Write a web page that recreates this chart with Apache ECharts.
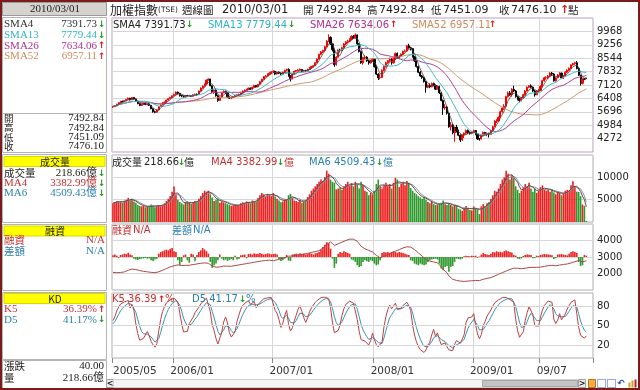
<!DOCTYPE html>
<html><head><meta charset="utf-8">
<script src="https://cdn.jsdelivr.net/npm/echarts/dist/echarts.min.js"></script>
<style>html,body{margin:0;padding:0;background:#fff}#c{width:640px;height:390px}</style>
</head><body><div id="c"></div>
<script>
// ---- weekly TAIEX candles [open, close, low, high], 2005/05 .. 2010/03/01 ----
const candles = [
[5950,5980,5900,6010],[5980,6012,5940,6050],[6012,6100,5990,6120],[6100,6180,6080,6210],[6180,6250,6150,6280],[6250,6241,6190,6290],[6241,6290,6220,6320],[6290,6350,6260,6380],[6350,6420,6330,6450],[6420,6330,6300,6440],
[6330,6460,6320,6480],[6460,6380,6350,6470],[6380,6250,6220,6400],[6250,6130,6100,6270],[6130,6033,6000,6150],[6033,6100,6010,6130],[6100,6160,6070,6190],[6160,6080,6050,6180],[6080,6118,6040,6140],[6118,6040,6000,6150],
[6040,5860,5830,6060],[5860,5700,5650,5880],[5700,5670,5618,5760],[5670,5790,5650,5820],[5790,5980,5780,6000],[5980,6060,5950,6090],[6060,6190,6040,6210],[6190,6203,6150,6240],[6203,6320,6190,6340],[6320,6390,6290,6420],
[6390,6460,6370,6490],[6460,6548,6440,6560],[6548,6620,6520,6660],[6620,6740,6600,6780],[6740,6680,6620,6770],[6680,6560,6500,6700],[6560,6532,6470,6600],[6532,6480,6430,6560],[6480,6560,6460,6590],[6560,6550,6500,6600],
[6550,6561,6510,6600],[6561,6520,6480,6590],[6520,6600,6500,6630],[6600,6630,6570,6660],[6630,6613,6560,6670],[6613,6800,6600,6820],[6800,6960,6780,6990],[6960,7060,6930,7100],[7060,7171,7030,7200],[7171,7380,7150,7400],
[7380,7440,7350,7474],[7440,7080,7050,7450],[7080,6780,6700,7100],[6780,6846,6650,6900],[6846,6550,6500,6870],[6550,6300,6232,6600],[6300,6480,6280,6510],[6480,6704,6460,6720],[6704,6790,6680,6830],[6790,6700,6650,6820],
[6700,6480,6430,6720],[6480,6420,6380,6520],[6420,6455,6370,6490],[6455,6510,6420,6540],[6510,6570,6480,6600],[6570,6600,6540,6630],[6600,6611,6560,6650],[6611,6700,6590,6720],[6700,6800,6680,6830],[6800,6850,6770,6880],
[6850,6884,6820,6920],[6884,6950,6860,6980],[6950,6900,6860,6990],[6900,7000,6880,7030],[7000,7100,6980,7130],[7100,7021,6990,7120],[7021,7150,7000,7180],[7150,7300,7130,7330],[7300,7420,7280,7450],[7420,7567,7400,7590],
[7567,7600,7520,7650],[7600,7700,7580,7730],[7700,7750,7660,7790],[7750,7823,7720,7850],[7823,7850,7760,7900],[7850,7700,7650,7880],[7700,7800,7680,7830],[7800,7750,7700,7840],[7750,7699,7640,7790],[7699,7800,7680,7830],
[7800,7900,7780,7930],[7900,7950,7860,7990],[7950,7600,7560,8000],[7600,7450,7306,7640],[7450,7700,7420,7730],[7700,7850,7680,7880],[7850,7884,7810,7920],[7884,7920,7850,7960],[7920,7950,7880,8000],[7950,7850,7800,7970],
[7850,7880,7790,7920],[7880,7875,7820,7930],[7875,7950,7850,7990],[7950,8050,7930,8080],[8050,8100,8010,8140],[8100,8145,8060,8180],[8145,8300,8120,8330],[8300,8500,8280,8530],[8500,8750,8480,8780],[8750,8883,8700,8920],
[8883,8950,8820,9000],[8950,9150,8920,9200],[9150,9450,9120,9500],[9450,9650,9400,9807],[9650,9300,9250,9700],[9300,9000,8900,9350],[9000,8200,8090,9050],[8200,8600,8150,8650],[8600,8982,8580,9010],[8982,8950,8850,9050],
[8950,9100,8900,9150],[9100,9300,9080,9350],[9300,9411,9250,9450],[9411,9450,9350,9520],[9450,9550,9400,9600],[9550,9700,9500,9760],[9700,9650,9580,9780],[9650,9780,9600,9859],[9780,9300,9250,9800],[9300,8900,8850,9350],
[8900,8300,8250,8950],[8300,8586,8200,8620],[8586,8600,8450,8700],[8600,8400,8350,8650],[8400,8300,8200,8450],[8300,8400,8250,8450],[8400,8506,8350,8550],[8506,8100,8050,8530],[8100,7700,7650,8150],[7700,7500,7384,7750],
[7500,7521,7420,7700],[7521,7900,7500,7950],[7900,8100,7850,8150],[8100,8300,8050,8350],[8300,8412,8250,8450],[8412,8500,8350,8550],[8500,8300,8200,8550],[8300,8500,8250,8550],[8500,8800,8480,8850],[8800,8572,8520,8850],
[8572,8650,8500,8700],[8650,8750,8600,8800],[8750,8900,8700,8950],[8900,8920,8850,9000],[8920,9200,8900,9250],[9200,9100,9050,9309],[9100,9050,8950,9150],[9050,8619,8580,9080],[8619,8400,8350,8650],[8400,8100,8050,8450],
[8100,7800,7750,8150],[7800,7600,7550,7850],[7600,7523,7450,7650],[7523,7300,7250,7560],[7300,7000,6708,7350],[7000,7100,6950,7150],[7100,7024,6950,7200],[7024,7200,7000,7250],[7200,7100,7050,7250],[7100,6900,6850,7150],
[6900,7046,6880,7100],[7046,6700,6650,7080],[6700,6300,6250,6750],[6300,5900,5530,6350],[5900,5950,5800,6100],[5950,5620,5550,6000],[5620,4900,4850,5650],[4900,5000,4700,5150],[5000,4580,4500,5050],[4580,4870,4110,4900],
[4870,4700,4600,5000],[4700,4450,4400,4750],[4450,4200,4089,4500],[4200,4460,4150,4500],[4460,4550,4300,4600],[4550,4700,4500,4760],[4700,4600,4520,4750],[4600,4550,4480,4650],[4550,4591,4500,4640],[4591,4700,4560,4750],
[4700,4500,4450,4720],[4500,4250,4200,4520],[4250,4248,4164,4300],[4248,4450,4230,4480],[4450,4600,4420,4650],[4600,4500,4450,4630],[4500,4557,4400,4600],[4557,4500,4328,4580],[4500,4700,4480,4730],[4700,4900,4680,4950],
[4900,5200,4880,5250],[5200,5210,5100,5300],[5210,5400,5180,5450],[5400,5700,5380,5750],[5700,5900,5650,5950],[5900,5993,5800,6100],[5993,6500,5980,6550],[6500,6700,6450,6780],[6700,6600,6550,6800],[6600,6890,6500,6950],
[6890,6800,6750,7084],[6800,6500,6450,6850],[6500,6350,6300,6550],[6350,6300,6200,6450],[6300,6432,6250,6480],[6432,6600,6400,6650],[6600,6800,6550,6850],[6800,7000,6780,7050],[7000,7078,6950,7110],[7078,7000,6950,7150],
[7000,6800,6750,7050],[6800,6600,6500,6850],[6600,6800,6580,6850],[6800,6826,6750,6900],[6826,7050,6800,7100],[7050,7350,7020,7400],[7350,7500,7300,7550],[7500,7509,7400,7580],[7509,7600,7450,7650],[7600,7750,7560,7800],
[7750,7700,7620,7810],[7700,7340,7300,7750],[7340,7500,7300,7550],[7500,7650,7480,7700],[7650,7750,7600,7800],[7750,7500,7450,7780],[7500,7582,7450,7620],[7582,7800,7560,7850],[7800,7900,7750,7950],[7900,8000,7860,8050],
[8000,8188,7980,8220],[8188,8250,8150,8300],[8250,8300,8200,8350],[8300,8000,7950,8395],[8000,7640,7600,8050],[7640,7212,7080,7660],[7212,7440,7150,7460],[7440,7436,7380,7500],[7492.84,7476.10,7451.09,7492.84]
];

// ---- weekly turnover (億) ----
const volume = [
4200,4500,4700,4400,4600,4300,
4800,5000,5400,4700,5200,4600,4300,
3800,3600,3500,3700,3300,3400,3500,3900,3700,3300,3600,3800,3500,3900,4200,
4700,5200,5800,6800,7950,6200,
5000,4500,4200,3900,4400,4600,4300,4100,4500,4700,4400,5200,5800,
6500,7000,6800,7000,6200,
5500,4700,5000,5200,4300,4600,4400,4200,4000,3800,3600,3700,3900,3800,3700,4200,4400,4300,4600,4500,4200,4800,4700,4500,
5400,6000,6500,6200,5800,6300,6000,5800,6500,
5700,5200,4800,4400,4600,5200,5000,6000,6300,5400,4800,4700,4500,5000,4300,4600,
5000,5600,6200,7000,7500,8000,8500,9000,9500,9200,
10000,11500,10800,9500,
9000,8800,7300,7500,7800,7200,8000,
8500,9000,8200,8700,8000,9000,8500,
7500,9000,8200,7000,6800,6000,6500,6200,
7000,8500,9500,8000,7500,8200,
8800,8000,8500,7500,8800,9900,9500,7800,8500,9000,8200,
9200,8800,7600,7000,6500,6200,5800,5500,5200,5600,5000,
4500,4200,4500,4000,3800,3900,4100,4300,4800,4000,3800,
4200,3800,3500,3700,3600,3000,2800,2500,3200,3600,3000,2700,2600,
3500,3200,2800,1800,3500,4000,3600,4200,4500,
5200,6000,7000,6800,7500,8500,9500,10000,
11500,10800,9500,10500,9800,8000,7200,6500,7000,
7800,8500,8000,8800,7500,6800,7500,6500,7000,
7800,8200,7300,7000,7200,6800,7400,6600,6200,6800,6500,6000,6300,
7000,7200,7000,8200,9150,8000,
6800,6724,5800,3900,3613,218.66
];

// ---- margin financing balance (億) ----
const margin = [
2070,2060,2050,2040,2060,2080,2100,2150,2200,2250,2270,
2260,2240,2200,2180,2150,2130,2120,2100,2090,2070,2060,2050,2060,
2100,2150,2200,2250,2300,2350,2400,2430,2470,2500,
2520,2500,2480,2470,2490,2510,2500,2520,2540,2560,2580,2600,2620,2630,2640,2650,2620,
2550,2450,2400,2380,2376,2400,2420,
2450,2460,2440,2430,2440,2460,2480,2500,2520,2540,2560,2580,2600,2620,2640,2660,2680,2700,2720,2740,2760,2780,2790,2800,2810,2790,2776,
2800,2830,2870,2900,2930,2960,3000,3050,3050,3060,3079,
3100,3120,3140,3160,3180,3200,3220,3250,3280,3300,3330,3360,3382,3450,3550,
3650,3750,3850,3920,3900,3700,3750,3800,
3850,3900,3950,4000,4050,4080,4100,4080,4050,3950,3800,3650,
3550,3500,3450,3400,3350,3300,3200,3100,3000,2950,
3000,3050,3100,3150,3200,3250,3300,3350,3400,3450,3500,3550,3600,3620,3650,3600,3550,
3450,3350,3250,3150,3050,2950,2850,2780,2750,2720,2700,2680,2650,
2550,2400,2250,2150,2050,1850,1750,1650,1600,1580,1560,1540,1520,
1520,1530,1540,1550,1560,1570,1580,1570,1570,1600,1650,1680,1700,1720,1750,1800,1850,1900,1950,2000,2050,2100,
2150,2200,2250,2300,2320,2330,2320,2300,2290,2300,2320,2340,2360,2380,2370,2360,2370,2376,2390,2410,2430,2450,2470,2490,2500,2480,2470,2490,2510,2530,2550,2560,2576,2600,2640,2680,2720,2750,2780,2720,2700,2740,2776
];

// ---- margin weekly difference (億) ----
const marginDiff = [
10,15,8,-5,12,15,20,18,25,15,
10,-10,-15,-18,-12,-10,-8,-6,-10,-8,
-20,-24,-15,-10,20,30,
35,40,45,40,50,54,35,30,
-20,-48,-30,10,15,-20,-35,20,15,-25,12,
30,40,54,45,35,20,-30,
-66,-50,-40,-20,15,
-10,-20,-15,-24,-18,-12,-20,8,-15,-10,10,12,15,-8,
18,20,15,22,18,20,24,20,15,18,22,20,16,18,20,15,
-15,-24,-20,-10,12,-22,-24,15,
18,20,15,22,18,20,15,18,24,20,15,22,25,30,
45,60,75,90,85,50,-10,
-66,-40,20,
30,25,35,30,25,20,-15,-20,-30,-50,-60,-55,
-30,-20,-25,-30,-20,-25,-40,-50,-45,-20,
25,30,28,30,25,30,35,30,25,30,28,25,20,15,12,-20,-25,
-40,-45,-50,-40,-45,-50,-45,-30,-20,-15,-12,-10,-15,
-40,-70,-80,-60,-55,-90,-60,-55,-30,-10,-12,-15,-10,
5,8,6,5,8,6,8,-5,3,15,25,18,15,12,20,30,28,35,30,32,28,35,
40,35,30,28,12,8,-10,-12,-8,6,12,15,14,12,-8,-6,8,6,12,15,18,16,15,14,10,-12,-8,15,16,18,15,12,10,20,30,35,30,25,-30,-54,-50,12,8
];

// ---- axis tick labels ----
const tickLabels = ['2005/05','2006/01','2007/01','2008/01','2009/01','09/07'];
const tickIndex  = [0, 32, 84, 137, 189, 224];
const priceTicks = [4272,4984,5696,6408,7120,7832,8544,9256,9968];
const volTicks = [5000,10000];
const marginTicks = [2000,3000,4000];
const kdTicks = [20,50,80];

// ---- derived indicators ----
const closes = candles.map(c => c[1]);
function sma(arr, n) {
  return arr.map((_, i) => { const s = Math.max(0, i - n + 1); let t = 0; for (let j = s; j <= i; j++) t += arr[j]; return +(t / (i - s + 1)).toFixed(2); });
}
function kd(n) {
  const K = [], D = []; let k = 50, d = 50;
  for (let i = 0; i < candles.length; i++) {
    let lo = Infinity, hi = -Infinity;
    for (let j = Math.max(0, i - n + 1); j <= i; j++) { lo = Math.min(lo, candles[j][2]); hi = Math.max(hi, candles[j][3]); }
    const rsv = hi > lo ? (candles[i][1] - lo) / (hi - lo) * 100 : 50;
    k = k * 2 / 3 + rsv / 3; d = d * 2 / 3 + k / 3;
    K.push(+k.toFixed(2)); D.push(+d.toFixed(2));
  }
  return [K, D];
}
const [K5, D5] = kd(5);

const NCAT = 252;
const cats = Array.from({length: NCAT}, (_, i) => String(i));
const tickSet = new Set(tickIndex);
const labelMap = new Map();
tickIndex.forEach((t, k) => labelMap.set(k === 0 ? t : t - 2, tickLabels[k]));

const SANS = '"DejaVu Sans","Noto Sans CJK TC",sans-serif';
const SERIF = '"Liberation Serif","Noto Sans CJK TC",serif';
const CJK = '"Noto Sans CJK TC",sans-serif';
const UP = '#f02020', DN = '#2e9a2e';
const GRIDC = '#d6d6d6';

function xAx(gi, last) {
  return {
    type: 'category', gridIndex: gi, data: cats, boundaryGap: true,
    axisLine: {show: false},
    axisTick: {show: last, interval: i => tickSet.has(i), length: 5, lineStyle: {color: '#888'}},
    axisLabel: {show: last, interval: i => labelMap.has(i), formatter: (v, i) => labelMap.get(i) || '',
      align: 'left', margin: 8, color: '#333', fontSize: 10.5, fontFamily: 'DejaVu Sans'},
    splitLine: {show: true, interval: i => tickSet.has(i), lineStyle: {color: GRIDC, width: 1}}
  };
}
function yAx(gi, min, max, interval, labels, split) {
  return {
    type: 'value', gridIndex: gi, position: 'right', min, max, interval,
    axisLine: {show: false}, axisTick: {show: false},
    axisLabel: {margin: 4, color: '#222', fontSize: 10, fontFamily: 'DejaVu Sans',
      formatter: v => labels.includes(v) ? String(v) : ''},
    splitLine: {show: split, lineStyle: {color: GRIDC, width: 1}}
  };
}

// ---- graphic texts / panels ----
const G = [];
const T = (x, y, text, fill, font, align) => G.push({type: 'text', x, y, silent: true, z: 10,
  style: {text, fill, font, textAlign: align || 'left', textVerticalAlign: 'middle'}});
const R = (x, y, w, h, fill, stroke, extra) => G.push(Object.assign({type: 'rect', silent: true, z: 5,
  shape: {x, y, width: w, height: h}, style: {fill, stroke, lineWidth: 1}}, extra || {}));
const ARW_DN = ['↓', '#1f9a1f'], ARW_UP = ['↑', '#e01818'];
const arrow = (x, y, a) => T(x, y, a[0], a[1], 'bold 9px ' + SANS);

// left info panel
R(2.5, 2.5, 104, 13, '#d6d3ce', '#9a9a9a');
T(55, 9.5, '2010/03/01', '#222', '11px ' + SERIF, 'center');
[[17, 135], [154, 68], [224, 66], [292, 67], [360, 28]].forEach(([y, h]) => R(2.5, y + 0.5, 104, h, 'none', '#b4b4b4'));
G.push({type: 'line', silent: true, z: 5, shape: {x1: 3, y1: 113.5, x2: 106, y2: 113.5}, style: {stroke: '#b4b4b4'}});
const maRows = [['SMA4', '7391.73', '#333', ARW_DN], ['SMA13', '7779.44', '#2fb3c4', ARW_DN],
                ['SMA26', '7634.06', '#b0308f', ARW_UP], ['SMA52', '6957.11', '#cf8a5c', ARW_UP]];
maRows.forEach((r, k) => { const y = 24.5 + k * 10.7; T(4, y, r[0], r[2], '11px ' + SERIF); T(97, y, r[1], r[2], '11px ' + SERIF, 'right'); arrow(98, y, r[3]); });
[['開', '7492.84'], ['高', '7492.84'], ['低', '7451.09'], ['收', '7476.10']].forEach((r, k) => {
  const y = 118.5 + k * 9.2; T(4, y, r[0], '#222', '9.5px ' + CJK); T(104, y, r[1], '#222', '11px ' + SERIF, 'right'); });
[[156.5, '成交量'], [226, '融資'], [293.5, 'KD']].forEach(([y, t]) => { R(4, y, 101, 10, '#ffff00', '#d8d800'); T(55, y + 5.3, t, '#222', '10px ' + CJK, 'center'); });
[['成交量', '218.66億', '#222', ARW_DN], ['MA4', '3382.99億', '#c83030', ARW_DN], ['MA6', '4509.43億', '#2a7fb0', ARW_DN]].forEach((r, k) => {
  const y = 173.3 + k * 10; T(4, y, r[0], r[2], (k ? '11px ' + SERIF : '10.5px ' + CJK)); T(97, y, r[1], r[2], '11px ' + SERIF, 'right'); arrow(98, y, r[3]); });
T(4, 240, '融資', '#c83030', '10.5px ' + CJK); T(105, 240, 'N/A', '#c83030', '11px ' + SERIF, 'right');
T(4, 250.7, '差額', '#2a7fb0', '10.5px ' + CJK); T(105, 250.7, 'N/A', '#2a7fb0', '11px ' + SERIF, 'right');
T(4, 309.3, 'K5', '#c83030', '11px ' + SERIF); T(97, 309.3, '36.39%', '#c83030', '11px ' + SERIF, 'right'); arrow(98, 309.3, ARW_UP);
T(4, 320, 'D5', '#2a7fb0', '11px ' + SERIF); T(97, 320, '41.17%', '#2a7fb0', '11px ' + SERIF, 'right'); arrow(98, 320, ARW_DN);
T(4, 366, '漲跌', '#222', '10.5px ' + CJK); T(104, 366, '40.00', '#222', '11px ' + SERIF, 'right');
T(4, 377.7, '量', '#222', '10.5px ' + CJK); T(104, 377.7, '218.66億', '#222', '11px ' + SERIF, 'right');

// title row
T(110, 10, '加權指數', '#222', '12px ' + CJK); T(158, 10.5, '(TSE)', '#222', '7.5px ' + SANS);
T(182, 10, '週線圖', '#222', '10.5px ' + CJK); T(222, 10, '2010/03/01', '#222', '11.5px ' + SANS);
T(303, 10, '開', '#222', '10.5px ' + CJK); T(316, 10, '7492.84', '#222', '11px ' + SANS);
T(367, 10, '高', '#222', '10.5px ' + CJK); T(379, 10, '7492.84', '#222', '11px ' + SANS);
T(431, 10, '低', '#222', '10.5px ' + CJK); T(443, 10, '7451.09', '#222', '11px ' + SANS);
T(499, 10, '收', '#222', '10.5px ' + CJK); T(511, 10, '7476.10', '#222', '11px ' + SANS);
T(560, 10, '↑', '#e01818', 'bold 11px ' + SANS); T(568, 10, '點', '#222', '10.5px ' + CJK);

// panel legends
const L10 = '10px ' + SANS;
T(113, 25, 'SMA4 7391.73', '#222', L10); arrow(186, 25, ARW_DN);
T(208, 25, 'SMA13 7779.44', '#2fb3c4', L10); arrow(288, 25, ARW_DN);
T(310, 25, 'SMA26 7634.06', '#b0308f', L10); arrow(390, 25, ARW_UP);
T(412, 25, 'SMA52 6957.11', '#cf8a5c', L10); arrow(489, 25, ARW_UP);
T(112, 162.5, '成交量', '#222', '10px ' + CJK); T(144, 162.5, '218.66', '#222', L10); arrow(178, 162.5, ARW_DN); T(184, 162.5, '億', '#222', '10px ' + CJK);
T(211, 162.5, 'MA4 3382.99', '#c83030', L10); arrow(277, 162.5, ARW_DN); T(284, 162.5, '億', '#c83030', '10px ' + CJK);
T(309, 162.5, 'MA6 4509.43', '#2a7fb0', L10); arrow(376, 162.5, ARW_DN); T(383, 162.5, '億', '#2a7fb0', '10px ' + CJK);
T(112, 230.7, '融資', '#c83030', '10px ' + CJK); T(133, 230.7, 'N/A', '#c83030', L10);
T(172, 230.7, '差額', '#2a7fb0', '10px ' + CJK); T(193, 230.7, 'N/A', '#2a7fb0', L10);
T(112, 299.5, 'K5 36.39', '#c83030', L10); arrow(158, 299.5, ARW_UP); T(165, 299.5, '%', '#c83030', L10);
T(192, 299.5, 'D5 41.17', '#2a7fb0', L10); arrow(239, 299.5, ARW_DN); T(246, 299.5, '%', '#2a7fb0', L10);

// bottom scroll bar & tool icons
R(106.5, 379.5, 7, 8, '#ececec', '#a0a0a0'); T(110, 383.5, '<', '#222', 'bold 8px ' + SANS, 'center');
R(113.5, 379.5, 464, 8, '#f4f4f4', '#d0d0d0');
R(482.5, 380.5, 95, 6, '#c4c4c4', '#a8a8a8');
R(578.5, 379.5, 7, 8, '#ececec', '#a0a0a0'); T(582, 383.5, '>', '#222', 'bold 8px ' + SANS, 'center');
R(588.5, 379.5, 7, 8, '#f6b040', '#c07010');
R(597.5, 379.5, 8, 8, 'none', '#3050c0', {style: {fill: 'none', stroke: '#3050c0', lineDash: [1, 1]}});
R(607.5, 379.5, 8, 8, 'none', '#3050c0', {style: {fill: 'none', stroke: '#3050c0', lineDash: [1, 1]}});
T(621, 383.5, '↶', '#3050c0', 'bold 9px ' + SANS, 'center');
R(628.5, 382.5, 2, 5, '#d0a020', null); R(631.5, 380.5, 2, 7, '#d0a020', null); R(634.5, 379.5, 2, 8, '#c02020', null);
// outer frame
G.push({type: 'rect', silent: true, z: 20, shape: {x: 1, y: 1, width: 638, height: 388}, style: {fill: 'none', stroke: '#7a1c1c', lineWidth: 2}});

const chart = echarts.init(document.getElementById('c'), null, {renderer: 'canvas', width: 640, height: 390});
const gridBase = {left: 112, width: 481, show: true, backgroundColor: '#fff', borderWidth: 1, outerBoundsMode: 'none', containLabel: false};
chart.setOption({
  animation: false,
  backgroundColor: '#fff',
  textStyle: {fontFamily: 'DejaVu Sans'},
  grid: [
    Object.assign({}, gridBase, {top: 18, height: 134, borderColor: '#c890c8'}),
    Object.assign({}, gridBase, {top: 155, height: 67, borderColor: '#b0b0b0'}),
    Object.assign({}, gridBase, {top: 224, height: 66, borderColor: '#b0b0b0'}),
    Object.assign({}, gridBase, {top: 293, height: 65, borderColor: '#b0b0b0'})
  ],
  xAxis: [xAx(0, false), xAx(1, false), xAx(2, false), xAx(3, true)],
  yAxis: [
    yAx(0, 3560, 10680, 712, priceTicks, true),
    yAx(1, 0, 15000, 5000, volTicks, true),
    yAx(2, 1000, 5000, 1000, marginTicks, true),
    {type: 'value', gridIndex: 2, min: -200, max: 200, show: false, splitLine: {show: false}},
    yAx(3, 0, 100, 10, kdTicks, false)
  ],
  series: [
    {type: 'candlestick', xAxisIndex: 0, yAxisIndex: 0, data: candles, barWidth: 1.6,
      itemStyle: {color: '#ff0000', color0: '#000000', borderColor: '#ff0000', borderColor0: '#000000', borderWidth: 1}},
    {type: 'line', xAxisIndex: 0, yAxisIndex: 0, data: sma(closes, 52), showSymbol: false, lineStyle: {width: 1, color: '#cf9a6c'}},
    {type: 'line', xAxisIndex: 0, yAxisIndex: 0, data: sma(closes, 26), showSymbol: false, lineStyle: {width: 1, color: '#b040a0'}},
    {type: 'line', xAxisIndex: 0, yAxisIndex: 0, data: sma(closes, 13), showSymbol: false, lineStyle: {width: 1, color: '#40bcc8'}},
    {type: 'line', xAxisIndex: 0, yAxisIndex: 0, data: sma(closes, 4), showSymbol: false, lineStyle: {width: 0.8, color: '#444'}},
    {type: 'bar', xAxisIndex: 1, yAxisIndex: 1, barCategoryGap: '15%',
      data: volume.map((v, i) => ({value: v, itemStyle: {color: candles[i][1] >= candles[i][0] ? UP : DN}}))},
    {type: 'line', xAxisIndex: 1, yAxisIndex: 1, data: sma(volume, 6), showSymbol: false, lineStyle: {width: 1, color: '#7a98a8'}},
    {type: 'line', xAxisIndex: 1, yAxisIndex: 1, data: sma(volume, 4), showSymbol: false, lineStyle: {width: 1, color: '#6a4a4a'}},
    {type: 'bar', xAxisIndex: 2, yAxisIndex: 3, barCategoryGap: '15%',
      data: marginDiff.map(v => ({value: v, itemStyle: {color: v >= 0 ? UP : DN}}))},
    {type: 'line', xAxisIndex: 2, yAxisIndex: 2, data: margin, showSymbol: false, lineStyle: {width: 1, color: '#b04848'}},
    {type: 'line', xAxisIndex: 3, yAxisIndex: 4, data: [], z: 1, silent: true,
      markLine: {silent: true, symbol: ['none', 'none'], label: {show: false}, animation: false,
        lineStyle: {color: GRIDC, type: 'solid', width: 1}, data: kdTicks.map(v => ({yAxis: v}))}},
    {type: 'line', xAxisIndex: 3, yAxisIndex: 4, data: D5, showSymbol: false, z: 3, lineStyle: {width: 1, color: '#3a94b0'}},
    {type: 'line', xAxisIndex: 3, yAxisIndex: 4, data: K5, showSymbol: false, z: 3, lineStyle: {width: 1, color: '#c04040'}}
  ],
  graphic: G
});
</script>
</body></html>
